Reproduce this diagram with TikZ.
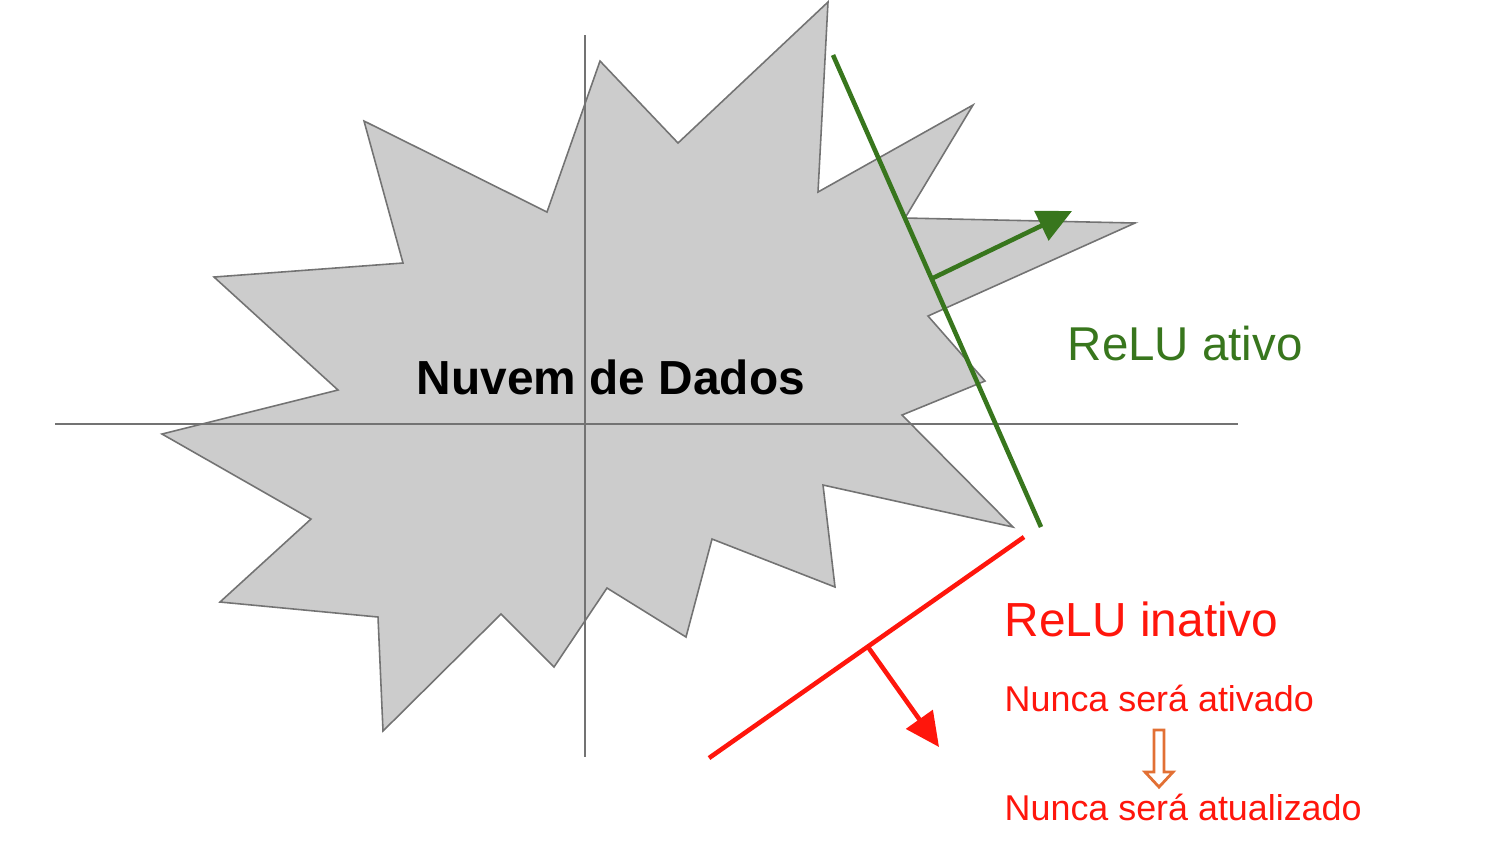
\documentclass[tikz,border=0pt]{standalone}
\usepackage{fontspec}
\setmainfont{Liberation Sans}
\usepackage{tikz}
\usetikzlibrary{arrows.meta,positioning}

\definecolor{ativo}{RGB}{56,118,29}
\definecolor{inativo}{RGB}{255,22,12}
\definecolor{seta}{RGB}{226,112,52}

\begin{document}
\begin{tikzpicture}[x=0.01cm,y=-0.01cm,
	eixo/.style={color=black!55,line width=0.6pt},
	relu/.style={line width=1.3pt},
	ponta/.style={-{Triangle[length=0.34cm,width=0.32cm]}},
	rotulo/.style={anchor=base west,inner sep=0pt}]
	\useasboundingbox (0,0) rectangle (1504,847);
	\draw [fill=black!20,draw=black!55,line width=0.45pt] (600,61) -- (678,143) -- (828,2) -- (818,192) -- (973,105) -- (905,218) -- (1135,223) -- (928,316) -- (985,381) -- (902,415) -- (1013,527) -- (823,485) -- (835,587) -- (712,539) -- (686,637) -- (607,588) -- (554,667) -- (501,614) -- (383,731) -- (378,617) -- (220,602) -- (311,519) -- (162,434) -- (338,390) -- (214,277) -- (403,263) -- (364,121) -- (547,212) -- cycle;
	\draw [eixo] (55,424) -- (1238,424);
	\draw [eixo] (585,35) -- (585,757);
	\node (nuvem) at (611,394) [anchor=base,inner sep=0pt,font=\fontsize{13.6}{16}\selectfont\bfseries] {Nuvem de Dados};
	\coordinate (ga) at (833,55);
	\coordinate (gb) at (1041,527);
	\coordinate (gp) at (933,278);
	\coordinate (gs) at (1072,211);
	\draw [relu,ativo] (ga) -- (gb);
	\draw [relu,ativo,ponta] (gp) -- (gs);
	\node (ativo) at (1067,360) [rotulo,text=ativo,font=\fontsize{13.5}{16}\selectfont] {ReLU ativo};
	\coordinate (ra) at (709,758);
	\coordinate (rb) at (1024,537);
	\coordinate (rp) at (868,647);
	\coordinate (rs) at (939,747);
	\draw [relu,inativo] (ra) -- (rb);
	\draw [relu,inativo,ponta] (rp) -- (rs);
	\node (inativo) at (1004,636) [rotulo,text=inativo,font=\fontsize{13.6}{16}\selectfont] {ReLU inativo};
	\node (nunca1) at (1004,711) [rotulo,text=inativo,font=\fontsize{10.2}{12}\selectfont] {Nunca será ativado};
	\node (nunca2) at (1004,820) [rotulo,text=inativo,font=\fontsize{10.2}{12}\selectfont] {Nunca será atualizado};
	\draw [seta,line width=0.8pt] (1154,730) -- (1164,730) -- (1164,772) -- (1173,772) -- (1159,787) -- (1145,772) -- (1154,772) -- cycle;
\end{tikzpicture}
\end{document}
